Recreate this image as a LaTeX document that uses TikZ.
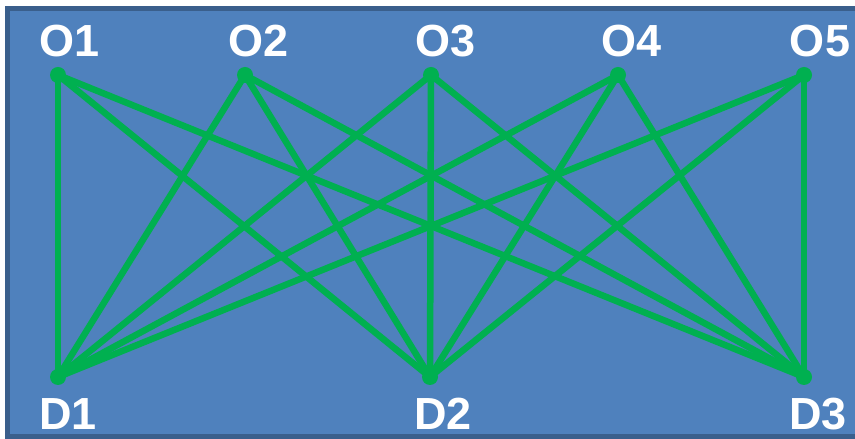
\documentclass[tikz,border=0pt]{standalone}
\usepackage{fontspec}
\setsansfont{Liberation Sans}
\usetikzlibrary{positioning}
\definecolor{bgblue}{HTML}{4F81BD}
\definecolor{edgeblue}{HTML}{3A5F8C}
\definecolor{flowgreen}{HTML}{00B050}

\begin{document}
\begin{tikzpicture}[x=1pt, y=1pt,
        pt/.style={circle, fill=flowgreen, inner sep=0pt, minimum size=16pt},
        lbl/.style={font=\sffamily\bfseries\fontsize{45}{45}\selectfont, text=white, inner sep=0pt, text height=32pt, text depth=0pt},
        flow/.style={draw=flowgreen, line width=6.5pt}]
        \useasboundingbox (0,0) rectangle (855,439);
        \draw[edgeblue, line width=5pt, fill=bgblue] (7.5,2.5) rectangle (862,430.5);
        % links first, so the dots sit on top
        \coordinate (a1) at (58,364);
        \coordinate (a2) at (245,364);
        \coordinate (a3) at (431,364);
        \coordinate (a4) at (618,364);
        \coordinate (a5) at (804,364);
        \coordinate (b1) at (58,62);
        \coordinate (b2) at (430,62);
        \coordinate (b3) at (804,62);
        \foreach \i in {1,...,5}
          \foreach \j in {1,2,3}
            \draw[flow] (a\i) -- (b\j);
        % origins
        \node[pt, label={[lbl, xshift=12pt, label distance=10.5pt]above:O1}] (o1) at (a1) {};
        \node[pt, label={[lbl, xshift=14pt, label distance=10.5pt]above:O2}] (o2) at (a2) {};
        \node[pt, label={[lbl, xshift=15pt, label distance=10.5pt]above:O3}] (o3) at (a3) {};
        \node[pt, label={[lbl, xshift=14pt, label distance=10.5pt]above:O4}] (o4) at (a4) {};
        \node[pt, label={[lbl, xshift=16pt, label distance=10.5pt]above:O5}] (o5) at (a5) {};
        % destinations
        \node[pt, label={[lbl, xshift=10pt, label distance=12.5pt]below:D1}] (d1) at (b1) {};
        \node[pt, label={[lbl, xshift=13pt, label distance=12.5pt]below:D2}] (d2) at (b2) {};
        \node[pt, label={[lbl, xshift=14pt, label distance=12.5pt]below:D3}] (d3) at (b3) {};
\end{tikzpicture}
\end{document}
